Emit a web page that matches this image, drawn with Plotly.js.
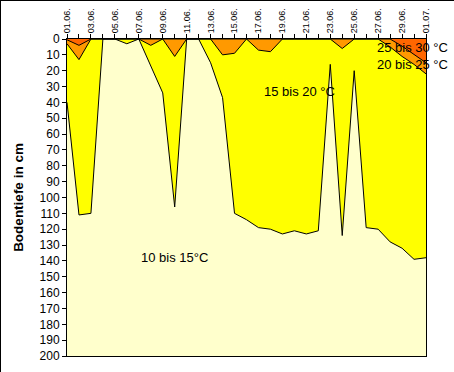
<!DOCTYPE html>
<html>
<head>
<meta charset="utf-8">
<script src="https://cdn.plot.ly/plotly-3.0.1.min.js"></script>
<style>
html,body{margin:0;padding:0;background:#fff;}
#chart{width:454px;height:372px;}
#frame{position:absolute;left:0;top:0;width:454px;height:372px;box-sizing:border-box;border-top:1px solid #000;border-left:1px solid #000;pointer-events:none;}
</style>
</head>
<body>
<div id="chart"></div>
<div id="frame"></div>
<script>
// Days since 01.06.
const days = [0,1,2,3,4,5,6,7,8,9,10,11,12,13,14,15,16,17,18,19,20,21,22,23,24,25,26,27,28,29,30];
const dateLabels = ["01.06.","","03.06.","","05.06.","","07.06.","","09.06.","","11.06.","","13.06.","","15.06.","","17.06.","","19.06.","","21.06.","","23.06.","","25.06.","","27.06.","","29.06.","","01.07."];
// Depth (cm) of isotherms
const depth15 = [40,111,110,0,0,3,0,17,34,106,0,0,15,37,110,114,119,120,123,121,123,121,16,124,20,119,120,128,132,139,138];
const depth20 = [3,13,0,0,0,0,0,4,0,11,0,0,0,10,9,0,7,8,0,0,0,0,0,6,0,0,0,5,11,16,22];
const depth25 = [0.5,4,0,0,0,0,0,0,0,0,0,0,0,0,0,0,0,0,0,0,0,0,0,0,0,0,0,0,4.5,9.6,15];
const bandLabels = ["10 bis 15°C","15 bis 20 °C","20 bis 25 °C","25 bis 30 °C"];

const FONT = "Liberation Sans, Arial, sans-serif";
function band(y, color){
  return {x: days, y: y, type:'scatter', mode:'lines', fill:'tozeroy', fillcolor: color,
          line:{color:'#000', width:1}, hoverinfo:'skip', showlegend:false};
}
const data = [band(depth15,'#FFFF00'), band(depth20,'#FF9900'), band(depth25,'#FF6600')];

const layout = {
  width:454, height:372,
  margin:{l:67, r:28, t:39, b:16, pad:0},
  paper_bgcolor:'#fff', plot_bgcolor:'#FFFFCC',
  font:{family:FONT, color:'#000', size:12},
  showlegend:false,
  xaxis:{range:[0,30], side:'top', tickvals:days, ticktext:dateLabels, tickangle:-90,
         ticks:'outside', ticklen:4, tickcolor:'#000', tickfont:{size:9, family:FONT},
         ticklabelstandoff:-1,
         showgrid:false, zeroline:false, showline:true, linecolor:'#000', linewidth:1, mirror:true},
  yaxis:{range:[200,0], tickmode:'linear', tick0:0, dtick:10, ticks:'outside', ticklen:4, tickcolor:'#000',
         tickfont:{size:12, family:FONT}, showgrid:false, zeroline:false, showline:true,
         linecolor:'#000', linewidth:1, mirror:true,
         title:{text:'Bodentiefe in cm', font:{size:13.5, family:FONT, weight:'bold'}, standoff:12}},
  annotations:[
    {x:8.98, y:138, text:bandLabels[0], showarrow:false, font:{size:13, family:FONT}},
    {x:19.47, y:33, text:bandLabels[1], showarrow:false, font:{size:13, family:FONT}},
    {x:28.9, y:16.2, text:bandLabels[2], showarrow:false, font:{size:13, family:FONT}},
    {x:28.9, y:5.5, text:bandLabels[3], showarrow:false, font:{size:13, family:FONT}}
  ]
};
Plotly.newPlot('chart', data, layout, {staticPlot:true, displayModeBar:false});
</script>
</body>
</html>
